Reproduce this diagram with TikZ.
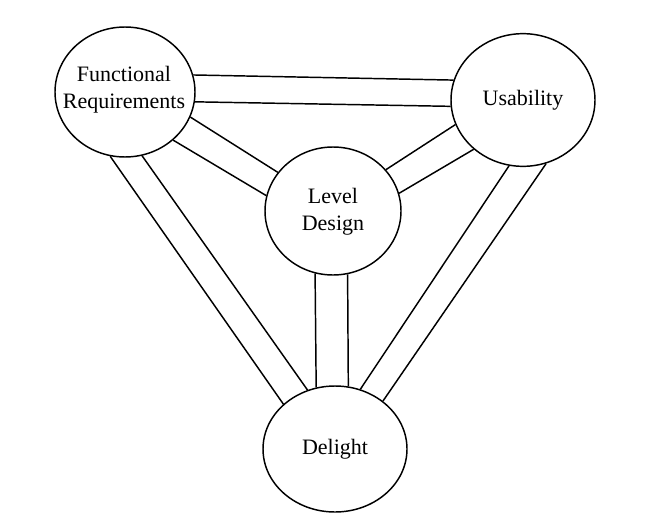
\documentclass[tikz,border=0pt]{standalone}
\usepackage{fontspec}
\setmainfont{Liberation Serif}
\usetikzlibrary{shapes.geometric}

\tikzset{
	bubble/.style={draw, ellipse, line width=1.1pt, inner sep=0pt},
	bubbletext/.style={inner sep=0pt, align=center, font=\fontsize{16.5}{20.25}\selectfont},
	link/.style={line width=1.1pt},
}

\begin{document}
\begin{tikzpicture}[x=0.75pt,y=0.75pt,yscale=-1,xscale=1]
	\useasboundingbox (0,0) rectangle (660,528);

	% Bubbles
	\node [bubble, minimum width=105pt, minimum height=97.5pt] (fr) at (125,92) {};
	\node [bubble, minimum width=108pt, minimum height=99.5pt] (us) at (523,100) {};
	\node [bubble, minimum width=102pt, minimum height=96pt] (ld) at (333,211) {};
	\node [bubble, minimum width=108pt, minimum height=94.5pt] (de) at (335,449) {};

	% Text Node
	\node [bubbletext] (frtext) at (124,90) {Functional\\Requirements};
	% Text Node
	\node [bubbletext] (ustext) at (523,100) {Usability};
	% Text Node
	\node [bubbletext] (ldtext) at (333,212) {Level\\Design};
	% Text Node
	\node [bubbletext] (detext) at (335,449) {Delight};

	% Links fr - us
	\draw [link] (fr.14) -- (us.164.5);
	\draw [link] (fr.-8) -- (us.185.7);
	% Links fr - ld
	\draw [link] (fr.-21.6) -- (ld.145.5);
	\draw [link] (fr.-45) -- (ld.167.5);
	% Links us - ld
	\draw [link] (us.200.9) -- (ld.38);
	\draw [link] (us.225) -- (ld.15.5);
	% Links ld - de
	\draw [link] (ld.254) -- (de.107);
	\draw [link] (ld.283.3) -- (de.78.9);
	% Links fr - de
	\draw [link] (fr.-103.4) -- (de.139.8);
	\draw [link] (fr.-75.5) -- (de.115.7);
	% Links us - de
	\draw [link] (us.258.3) -- (de.67);
	\draw [link] (us.290.1) -- (de.45);
\end{tikzpicture}
\end{document}
